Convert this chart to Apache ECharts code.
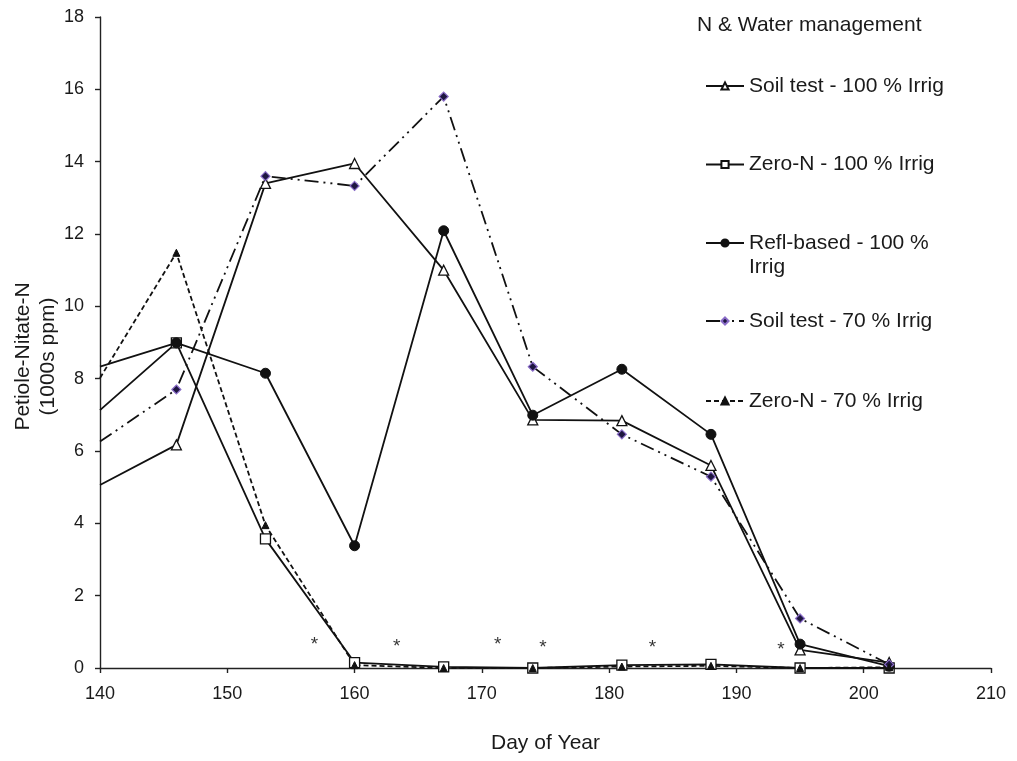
<!DOCTYPE html>
<html>
<head>
<meta charset="utf-8">
<script src="https://cdn.jsdelivr.net/npm/echarts@6/dist/echarts.min.js"></script>
<style>
html,body{margin:0;padding:0;background:#fff;}
#c{width:1017px;height:761px;}
</style>
</head>
<body>
<div id="c"></div>
<script>
const days = [140, 146, 153, 160, 167, 174, 181, 188, 195, 202];
const soilTest100 = [5.06, 6.17, 13.4, 13.95, 11.0, 6.86, 6.84, 5.6, 0.5, 0.15];
const zeroN100 = [7.13, 8.99, 3.57, 0.15, 0.03, 0.0, 0.08, 0.1, 0.0, 0.0];
const reflBased100 = [8.33, 8.99, 8.15, 3.38, 12.09, 6.99, 8.26, 6.46, 0.66, 0.05];
const soilTest70 = [6.26, 7.7, 13.6, 13.33, 15.8, 8.33, 6.46, 5.29, 1.37, 0.1];
const zeroN70 = [8.02, 11.48, 3.95, 0.08, 0.0, 0.0, 0.04, 0.06, 0.0, 0.02];
const starDays = [156.85, 163.3, 171.25, 174.8, 183.4, 193.5];
const starValues = [0.76, 0.71, 0.76, 0.68, 0.66, 0.62];
const seriesNames = ['Soil test - 100 % Irrig', 'Zero-N - 100 % Irrig', 'Refl-based - 100 %', 'Soil test - 70 % Irrig', 'Zero-N - 70 % Irrig'];
const xTicks = {min: 140, max: 210, interval: 10};
const yTicks = {min: 0, max: 18, interval: 2};

const FONT = '"Liberation Sans", Arial, sans-serif';
function pts(vals) {
  return vals.map((v, i) => i === 0 ? {value: [days[i], v], symbol: 'none'} : [days[i], v]);
}
const chart = echarts.init(document.getElementById('c'));
const lineW = 1.8;
const series = [
  {name: seriesNames[0], type: 'line', data: pts(soilTest100), symbol: 'triangle', symbolSize: 10,
   lineStyle: {color: '#111', width: lineW, type: 'solid'}, itemStyle: {color: '#fff', borderColor: '#111', borderWidth: 1.3}, z: 3},
  {name: seriesNames[1], type: 'line', data: pts(zeroN100), symbol: 'rect', symbolSize: 10,
   lineStyle: {color: '#111', width: lineW, type: 'solid'}, itemStyle: {color: '#fff', borderColor: '#111', borderWidth: 1.3}, z: 3},
  {name: seriesNames[2], type: 'line', data: pts(reflBased100), symbol: 'circle', symbolSize: 10,
   lineStyle: {color: '#111', width: lineW, type: 'solid'}, itemStyle: {color: '#111', borderColor: '#111', borderWidth: 1}, z: 3},
  {name: seriesNames[3], type: 'line', data: pts(soilTest70), symbol: 'diamond', symbolSize: 9,
   lineStyle: {color: '#111', width: lineW, type: [14, 5, 2, 5, 2, 5]}, itemStyle: {color: '#1e1640', borderColor: '#8a6cc8', borderWidth: 1.2}, z: 3},
  {name: seriesNames[4], type: 'line', data: pts(zeroN70), symbol: 'triangle', symbolSize: 7,
   lineStyle: {color: '#111', width: lineW, type: [5, 3]}, itemStyle: {color: '#111', borderColor: '#111', borderWidth: 1}, z: 3},
  {name: 'stars', type: 'scatter', data: starDays.map((d, i) => [d, starValues[i]]), symbolSize: 1,
   itemStyle: {color: 'rgba(0,0,0,0)'}, silent: true, z: 4,
   label: {show: true, formatter: '*', position: 'inside', fontSize: 19, color: '#000', fontFamily: FONT, offset: [0, 4]}}
];
const legendCenters = [86, 164.5, 243, 321, 401];
const legends = seriesNames.map((n, i) => ({
  data: [n], orient: 'vertical', left: 705, top: legendCenters[i] - 12, padding: 0,
  itemWidth: 38, itemHeight: 9, selectedMode: false,
  textStyle: {fontSize: 21, fontFamily: FONT, color: '#1a1a1a', lineHeight: 24}
}));
chart.setOption({
  animation: false,
  backgroundColor: '#fff',
  textStyle: {fontFamily: FONT},
  grid: {left: 100, right: 26, top: 17, bottom: 93, containLabel: false, outerBoundsMode: 'none'},
  legend: legends,
  graphic: [
    {type: 'text', left: 697, top: 15, style: {text: 'N & Water management', font: '21px ' + FONT, fill: '#1a1a1a'}},
    {type: 'text', left: 749, top: 257, style: {text: 'Irrig', font: '21px ' + FONT, fill: '#1a1a1a'}}
  ],
  xAxis: {
    type: 'value', min: xTicks.min, max: xTicks.max, interval: xTicks.interval,
    name: 'Day of Year', nameLocation: 'middle', nameGap: 65, nameMoveOverlap: false,
    nameTextStyle: {fontSize: 21, color: '#1a1a1a', fontFamily: FONT},
    axisLine: {show: true, onZero: false, lineStyle: {color: '#222', width: 1.4}},
    axisTick: {show: true, length: 5, inside: false, lineStyle: {color: '#222', width: 1.4}},
    axisLabel: {fontSize: 18, color: '#1a1a1a', margin: 17, fontFamily: FONT},
    splitLine: {show: false}
  },
  yAxis: {
    type: 'value', min: yTicks.min, max: yTicks.max, interval: yTicks.interval,
    name: 'Petiole-Nitate-N\n(1000s ppm)', nameLocation: 'middle', nameGap: 39, nameRotate: 90, nameMoveOverlap: false,
    nameTextStyle: {fontSize: 21, color: '#1a1a1a', fontFamily: FONT, lineHeight: 25, padding: [0, 28, 0, 0]},
    axisLine: {show: true, lineStyle: {color: '#222', width: 1.4}},
    axisTick: {show: true, length: 5, inside: false, lineStyle: {color: '#222', width: 1.4}},
    axisLabel: {fontSize: 18, color: '#1a1a1a', margin: 16, fontFamily: FONT},
    splitLine: {show: false}
  },
  series: series
});
</script>
</body>
</html>
